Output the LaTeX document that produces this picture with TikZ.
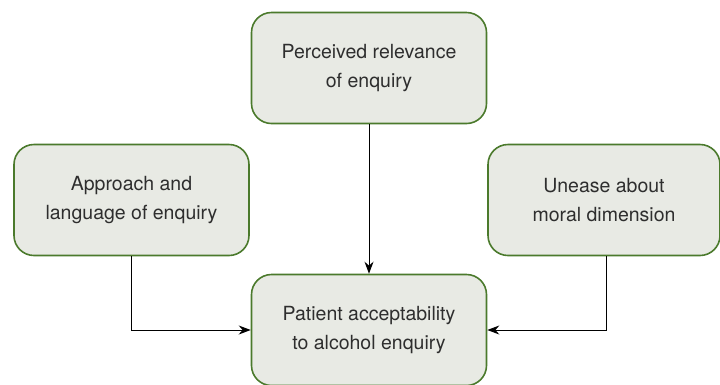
\documentclass[tikz,border=0pt]{standalone}
\usepackage{fontspec}
\setmainfont{TeX Gyre Heros}
\usetikzlibrary{arrows.meta}
\definecolor{boxfill}{HTML}{E8EAE4}
\definecolor{boxline}{HTML}{4B7A2C}
\begin{document}
\begin{tikzpicture}[x=1pt,y=1pt,
  factor/.style={draw=boxline, line width=1.6pt, fill=boxfill, rounded corners=20pt,
    minimum width=235pt, minimum height=111pt, inner sep=0pt, align=center,
    font=\fontsize{19.5}{29}\selectfont, text=black!82},
  conn/.style={line width=1pt, -{Stealth[length=12pt,width=9pt]}}]
\useasboundingbox (0,0) rectangle (720,-384);
\node[factor] (top) at (369,-68) {Perceived relevance\\of enquiry};
\node[factor] (left) at (131.5,-200) {Approach and\\language of enquiry};
\node[factor, minimum width=232pt] (right) at (604,-200) {Unease about\\moral dimension};
\node[factor] (bottom) at (369,-330) {Patient acceptability\\to alcohol enquiry};
\draw[conn] (top) -- (bottom);
\draw[conn] (left.south) |- (bottom.west);
\draw[conn] ([xshift=2pt]right.south) |- (bottom.east);
\end{tikzpicture}
\end{document}
